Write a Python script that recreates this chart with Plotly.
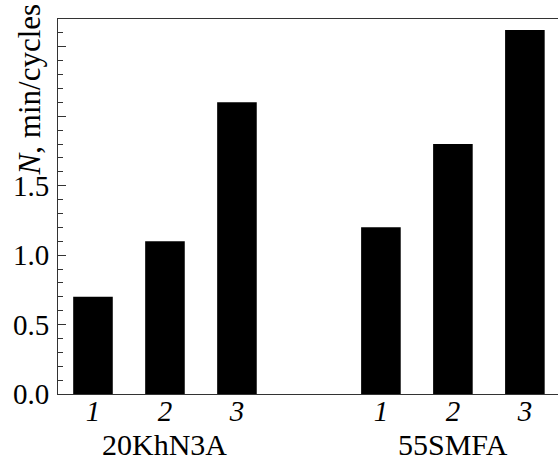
import plotly.graph_objects as go

groups = ["20KhN3A", "55SMFA"]
sample_labels = ["1", "2", "3"]
values_20KhN3A = [0.7, 1.1, 2.1]
values_55SMFA = [1.2, 1.8, 2.62]
y_tick_vals = [0.0, 0.5, 1.0, 1.5, 2.0, 2.5]
y_tick_text = ["0.0", "0.5", "1.0", "1.5", "", ""]

series = [values_20KhN3A, values_55SMFA]
xs, ys, tickvals, ticktext = [], [], [], []
for gi, vals in enumerate(series):
    for si, v in enumerate(vals):
        pos = gi * 4 + si
        xs.append(pos)
        ys.append(v)
        tickvals.append(pos)
        ticktext.append("<i>" + sample_labels[si] + "</i>")

FONT = "Liberation Serif"

fig = go.Figure()
fig.add_trace(go.Bar(x=xs, y=ys, width=0.55, marker=dict(color="black", line=dict(width=0)),
                     showlegend=False))

fig.update_layout(
    width=558, height=458,
    margin=dict(l=58, r=0, t=19, b=64),
    paper_bgcolor="white", plot_bgcolor="white",
    font=dict(family=FONT, color="black", size=28),
    xaxis=dict(range=[-0.486, 6.46], tickvals=tickvals, ticktext=ticktext,
               showline=True, linecolor="#333", linewidth=1, mirror=True,
               ticks="", showgrid=False, zeroline=False, automargin=False,
               tickfont=dict(family=FONT, size=29), ticklabelstandoff=-9),
    yaxis=dict(range=[0, 2.70], tickvals=y_tick_vals, ticktext=y_tick_text,
               showline=True, linecolor="#333", linewidth=1,
               ticks="inside", ticklen=8, tickcolor="#333", tickwidth=1,
               minor=dict(dtick=0.1, ticks="inside", ticklen=5, tickcolor="#333", tickwidth=1, showgrid=False),
               showgrid=False, zeroline=False, automargin=False,
               tickfont=dict(family=FONT, size=29), ticklabelstandoff=2),
)

for gi, g in enumerate(groups):
    fig.add_annotation(x=gi * 4 + 1, y=-0.131, yshift=-1, xref="x", yref="paper", text=g,
                       showarrow=False, yanchor="middle", xanchor="center",
                       font=dict(family=FONT, size=30))

fig.add_annotation(x=-0.058, y=1.043, xref="paper", yref="paper",
                   text="<i>N</i>, min/cycles", textangle=-90, showarrow=False,
                   xanchor="center", yanchor="top", font=dict(family=FONT, size=31))

fig.write_html("out.html", config={"displayModeBar": False},
               post_script="document.body.style.margin='0';document.body.style.overflow='hidden';")
